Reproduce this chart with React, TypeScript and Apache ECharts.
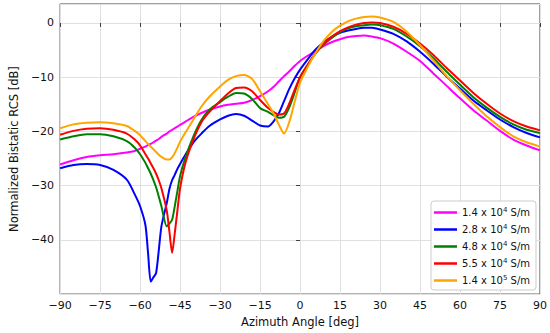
import React, { useEffect, useRef } from "react";
import * as echarts from "echarts";

const angles = [-90, -85, -80, -75, -70, -65, -62, -60, -58, -57, -56, -55, -54, -53, -52, -50, -49, -48, -47, -46, -45, -43, -40, -37, -34, -30, -27, -24, -21, -18, -15, -12, -10, -8, -6, -4, -2, 0, 3, 6, 9, 12, 15, 18, 21, 24, 27, 30, 35, 40, 45, 50, 55, 60, 65, 70, 75, 80, 85, 90];

const rcs14e4 = [-26.1, -25.3, -24.7, -24.4, -24.2, -23.9, -23.6, -23.2, -22.8, -22.5, -22.3, -22.0, -21.7, -21.4, -21.0, -20.4, -20.0, -19.7, -19.4, -19.1, -18.8, -18.2, -17.3, -16.6, -16.0, -15.4, -15.1, -14.9, -14.7, -14.2, -13.5, -12.6, -11.8, -10.8, -9.8, -8.9, -7.9, -7.0, -6.0, -5.1, -4.2, -3.5, -3.0, -2.6, -2.4, -2.3, -2.5, -2.8, -3.8, -5.3, -7.0, -9.3, -11.6, -13.9, -16.1, -18.0, -19.9, -21.5, -22.6, -23.5];

const rcs28e4 = [-26.8, -26.2, -26.0, -26.2, -27.1, -28.9, -31.6, -33.8, -37.3, -42.5, -47.7, -46.9, -46.1, -42.0, -37.5, -33.2, -30.6, -29.0, -28.0, -26.9, -26.0, -24.3, -22.0, -20.4, -19.0, -17.8, -17.1, -16.8, -17.1, -18.0, -18.9, -19.1, -18.2, -16.7, -14.4, -12.1, -10.2, -8.6, -6.6, -4.8, -3.5, -2.5, -1.8, -1.4, -1.1, -0.9, -0.9, -1.2, -2.0, -3.4, -5.3, -7.5, -9.9, -12.1, -14.3, -16.1, -17.8, -19.2, -20.3, -21.1];

const rcs48e4 = [-21.5, -20.9, -20.5, -20.5, -20.9, -21.8, -23.0, -24.2, -25.8, -26.8, -27.8, -29.0, -30.3, -32.0, -33.8, -37.5, -37.0, -36.3, -33.8, -31.0, -28.2, -24.8, -20.9, -17.9, -16.0, -14.6, -13.6, -12.9, -13.0, -14.0, -15.7, -16.4, -17.0, -17.5, -17.3, -15.5, -12.8, -10.0, -7.6, -5.5, -3.9, -2.7, -1.7, -1.0, -0.6, -0.4, -0.3, -0.4, -1.1, -2.5, -4.3, -6.5, -9.0, -11.4, -13.7, -15.6, -17.3, -18.7, -19.7, -20.3];

const rcs55e4 = [-20.6, -19.9, -19.5, -19.4, -19.7, -20.4, -21.5, -22.6, -24.2, -25.0, -25.9, -26.8, -27.8, -29.0, -30.5, -34.6, -38.5, -42.4, -38.8, -34.6, -30.5, -25.8, -21.5, -18.3, -16.4, -14.4, -13.0, -12.0, -11.9, -12.6, -14.2, -15.7, -16.4, -16.9, -16.7, -14.8, -12.3, -10.0, -7.6, -5.4, -3.8, -2.5, -1.5, -0.8, -0.3, 0.0, 0.1, 0.0, -0.7, -2.0, -3.8, -5.9, -8.3, -10.6, -12.9, -14.9, -16.7, -18.1, -19.1, -19.8];

const rcs14e5 = [-19.4, -18.7, -18.4, -18.3, -18.5, -19.0, -19.9, -20.7, -21.8, -22.3, -22.8, -23.3, -23.8, -24.3, -24.7, -25.2, -25.2, -24.8, -24.0, -23.0, -21.9, -20.2, -17.8, -15.4, -13.6, -11.7, -10.5, -9.8, -9.6, -10.3, -12.6, -15.0, -16.6, -18.7, -20.4, -18.2, -14.5, -11.0, -8.0, -5.4, -3.2, -1.6, -0.5, 0.3, 0.8, 1.1, 1.2, 1.0, 0.2, -1.6, -4.1, -6.9, -9.8, -12.4, -14.9, -17.2, -19.2, -20.9, -22.0, -22.8];

const seriesNames = ["1.4e4", "2.8e4", "4.8e4", "5.5e4", "1.4e5"];
const legendLabels = [
  "1.4 x 10{sup|4} S/m",
  "2.8 x 10{sup|4} S/m",
  "4.8 x 10{sup|4} S/m",
  "5.5 x 10{sup|4} S/m",
  "1.4 x 10{sup|5} S/m",
];
const seriesValues = [rcs14e4, rcs28e4, rcs48e4, rcs55e4, rcs14e5];
const seriesColors = ["#ff00ff", "#0000ff", "#008000", "#ff0000", "#ffa500"];

const FONT = "DejaVu Sans";
const minus = (v: number) => String(v).replace("-", "\u2212");

export default function App() {
  const ref = useRef<HTMLDivElement>(null);
  useEffect(() => {
    if (!ref.current) return;
    const chart = echarts.init(ref.current, undefined, { renderer: "svg" });
    chart.setOption({
      animation: false,
      backgroundColor: "#ffffff",
      textStyle: { fontFamily: FONT },
      grid: {
        left: 53,
        right: 9,
        top: 4,
        bottom: 38.5,
        show: true,
        borderColor: "#404040",
        borderWidth: 1,
        backgroundColor: "transparent",
      },
      xAxis: {
        type: "value",
        min: -90,
        max: 90,
        interval: 15,
        name: "Azimuth Angle [deg]",
        nameLocation: "middle",
        nameGap: 20,
        nameTextStyle: { fontFamily: FONT, fontSize: 11.5, color: "#111" },
        axisLine: { show: false },
        axisTick: { show: true, length: 4, lineStyle: { color: "#404040" } },
        axisLabel: { fontFamily: FONT, fontSize: 11, color: "#111", margin: 6, formatter: (v: number) => minus(v) },
        splitLine: { show: true, lineStyle: { color: "#e0e0e0", width: 1 } },
      },
      yAxis: {
        type: "value",
        min: -50,
        max: 3.5,
        interval: 10,
        name: "Normalized Bistatic RCS [dB]",
        nameLocation: "middle",
        nameGap: 33,
        nameTextStyle: { fontFamily: FONT, fontSize: 11.5, color: "#111" },
        axisLine: { show: false },
        axisTick: { show: true, length: 4, lineStyle: { color: "#404040" } },
        axisLabel: {
          fontFamily: FONT,
          fontSize: 11,
          color: "#111",
          margin: 6,
          showMinLabel: false,
          showMaxLabel: false,
          formatter: (v: number) => minus(v),
        },
        splitLine: { show: true, lineStyle: { color: "#e0e0e0", width: 1 } },
      },
      legend: {
        orient: "vertical",
        right: 14,
        bottom: 43,
        backgroundColor: "#ffffff",
        borderColor: "#cccccc",
        borderWidth: 1,
        borderRadius: 3,
        padding: [5, 6, 3, 3],
        itemWidth: 23,
        itemHeight: 2.5,
        itemGap: 4,
        icon: "rect",
        data: seriesNames,
        formatter: (name: string) => legendLabels[seriesNames.indexOf(name)],
        textStyle: {
          fontFamily: FONT,
          fontSize: 10,
          color: "#111",
          lineHeight: 13,
          rich: {
            sup: { fontSize: 7, fontFamily: FONT, color: "#111", padding: [0, 0, 6, 0] },
          },
        },
      },
      series: seriesNames.map((name, i) => ({
        name,
        type: "line",
        data: angles.map((a, j) => [a, seriesValues[i][j]]),
        showSymbol: false,
        symbol: "none",
        smooth: 0.25,
        lineStyle: { color: seriesColors[i], width: 2 },
        itemStyle: { color: seriesColors[i] },
        z: 2 + i,
      })),
    });
    return () => chart.dispose();
  }, []);
  return (
    <div
      ref={ref}
      style={{ position: "fixed", left: 0, top: 0, width: 550, height: 333, background: "#fff" }}
    />
  );
}
